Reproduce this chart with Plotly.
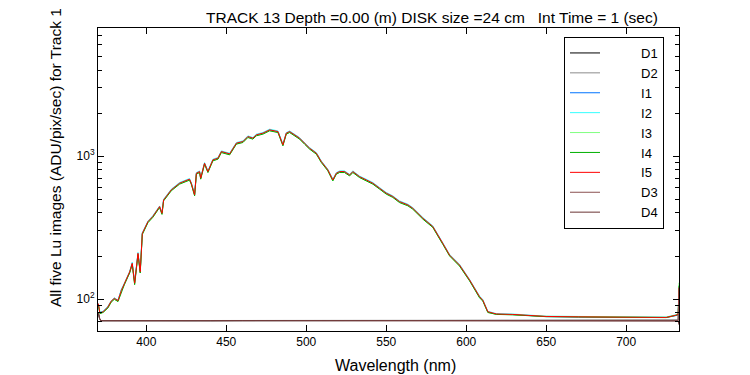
import plotly.graph_objects as go

# ---- data ----
wavelength = [370, 371, 373, 376, 378, 380, 382.3, 384.4, 386.4, 388.5, 389.6, 391.2, 392.7,
              394.8, 396.2, 397.5, 399, 401, 404, 408.3, 409.8, 410.8, 415.6, 420.8, 427,
              428.1, 430.2, 431.3, 433.3, 434, 436.4, 438.5, 441.6, 444.8, 446.9, 452.1,
              456.3, 460.4, 463.5, 466.6, 468.8, 472.9, 477.1, 482.3, 485.4, 487.5, 489.6,
              492.7, 495.8, 498.9, 502.1, 506.3, 509.4, 513.5, 516.6, 518.8, 520.8, 523.9,
              527.1, 529.1, 533.3, 537.5, 541.6, 545.8, 550, 554.1, 558.3, 563.5, 566.6,
              572.9, 579.1, 585.4, 589.6, 595.8, 602.1, 608.3, 610.4, 613.5, 618.8, 629,
              650, 670, 691.6, 710, 725, 731, 732.5, 733]

I5 = [93, 80, 81.5, 88, 96.6, 101, 97.5, 115, 129, 145, 155, 178, 129,
      209, 155, 288, 313, 348, 378, 444, 398, 494, 581, 647, 690,
      647, 536, 760, 780, 701, 893, 780, 942, 968, 1077, 1038,
      1233, 1266, 1372, 1337, 1410, 1449, 1528, 1486, 1200, 1449, 1486,
      1410, 1337, 1233, 1137, 1049, 917, 802, 682, 760, 780, 780,
      739, 780, 719, 682, 647, 597, 551, 522, 481, 456, 432,
      368, 322, 245, 203, 173, 136, 104, 98, 81.5, 78.6, 78,
      75.5, 75, 75, 74.5, 74.3, 77, 78, 120]
I1 = [92, 80, 82, 88, 96, 101, 98, 116, 128, 146, 154, 177, 131,
      208, 157, 287, 312, 347, 377, 442, 400, 492, 580, 645, 688,
      648, 540, 758, 779, 703, 890, 782, 940, 966, 1075, 1040,
      1230, 1265, 1370, 1338, 1408, 1450, 1525, 1488, 1205, 1447, 1484,
      1412, 1335, 1235, 1135, 1050, 915, 800, 685, 758, 779, 781,
      738, 779, 718, 683, 646, 596, 550, 521, 480, 455, 430,
      366, 321, 244, 202, 172, 135, 103, 97, 81, 78.3, 77.8,
      75.3, 74.8, 74.7, 74.4, 74.2, 76.5, 77.5, 118]
I2 = [93, 81, 82, 89, 97, 102, 98, 117, 130, 147, 156, 181, 131,
      212, 157, 291, 316, 351, 382, 448, 402, 499, 587, 654, 697,
      654, 542, 768, 788, 708, 902, 788, 952, 978, 1088, 1048,
      1245, 1279, 1386, 1350, 1424, 1464, 1543, 1502, 1212, 1463, 1501,
      1424, 1350, 1245, 1148, 1059, 926, 810, 689, 768, 788, 788,
      746, 788, 726, 689, 654, 603, 557, 527, 486, 461, 436,
      372, 325, 247, 205, 175, 137, 105, 99, 82, 79, 78.5,
      75.8, 75.5, 75.3, 75, 74.8, 77.5, 78.5, 122]
I3 = [92, 79, 81, 87, 95, 100, 96, 114, 127, 143, 153, 176, 127,
      206, 153, 284, 309, 344, 373, 439, 393, 488, 574, 639, 682,
      639, 530, 751, 770, 693, 882, 770, 930, 956, 1064, 1025,
      1218, 1251, 1356, 1321, 1393, 1432, 1510, 1468, 1186, 1432, 1468,
      1393, 1321, 1218, 1123, 1036, 906, 792, 674, 751, 770, 770,
      730, 770, 710, 674, 639, 590, 544, 516, 475, 451, 427,
      364, 318, 242, 201, 171, 134, 103, 97, 80.5, 78.2, 77.6,
      75.6, 75.4, 75.2, 74.7, 74.5, 77.2, 79, 130]
I4 = [91, 79, 80.5, 86.5, 95, 99.5, 96, 113, 127, 143, 152, 175, 126,
      205, 152, 283, 308, 342, 372, 437, 391, 486, 572, 637, 679,
      637, 527, 748, 768, 690, 879, 768, 927, 953, 1060, 1021,
      1214, 1246, 1350, 1316, 1388, 1426, 1504, 1463, 1181, 1426, 1463,
      1388, 1316, 1214, 1119, 1032, 903, 789, 671, 748, 768, 768,
      727, 768, 708, 671, 637, 588, 542, 514, 473, 449, 425,
      362, 317, 241, 200, 170, 134, 102, 96.5, 80.5, 78, 77.5,
      75.2, 74.8, 74.8, 74.3, 74.1, 76.8, 77.8, 124]

dark_wavelength = [370, 370.8, 371.6, 380, 400, 420, 440, 460, 480, 500, 520, 540, 560,
                   580, 600, 620, 640, 660, 680, 700, 720, 731, 732.5, 733]
D1 = [80, 73, 70.5, 70.4, 70.5, 70.6, 70.4, 70.5, 70.5, 70.3, 70.6, 70.5, 70.4,
      70.5, 70.5, 70.6, 70.4, 70.5, 70.6, 70.4, 70.5, 70.8, 71, 118]
D2 = [80, 73, 70.6, 70.6, 70.4, 70.5, 70.7, 70.4, 70.6, 70.5, 70.4, 70.6, 70.5,
      70.4, 70.6, 70.5, 70.6, 70.4, 70.5, 70.6, 70.4, 71, 71.2, 116]
D3 = [80, 73, 70.5, 70.5, 70.6, 70.4, 70.5, 70.6, 70.4, 70.6, 70.5, 70.4, 70.6,
      70.5, 70.4, 70.5, 70.5, 70.6, 70.4, 70.5, 70.6, 71, 70.8, 120]
D4 = [80, 73, 70.4, 70.5, 70.5, 70.5, 70.4, 70.5, 70.5, 70.5, 70.5, 70.5, 70.5,
      70.5, 70.5, 70.5, 70.5, 70.5, 70.5, 70.5, 70.5, 70.8, 70, 66]

x_ticks = [400, 450, 500, 550, 600, 650, 700]
y_ticks = [100, 1000]
y_tick_text = ["10<sup>2</sup>", "10<sup>3</sup>"]
y_minor = [60, 70, 80, 90, 200, 300, 400, 500, 600, 700, 800, 900,
           2000, 3000, 4000, 5000, 6000, 7000]

series = [
    ("D1", dark_wavelength, D1, "#000000"),
    ("D2", dark_wavelength, D2, "#8c8c8c"),
    ("I1", wavelength, I1, "#0073ff"),
    ("I2", wavelength, I2, "#33ffff"),
    ("I3", wavelength, I3, "#80ff80"),
    ("I4", wavelength, I4, "#00b000"),
    ("I5", wavelength, I5, "#ff0000"),
    ("D3", dark_wavelength, D3, "#8a5050"),
    ("D4", dark_wavelength, D4, "#6a3434"),
]

FONT = "Liberation Sans, Arial, sans-serif"
PAD = "\u00a0" * 10

# The page body has an 8px margin, so figure coordinates = window coordinates - 8.
OFF = 8
PL, PR, PT, PB = 98 - OFF, 679 - OFF, 28 - OFF, 331 - OFF   # plot box in figure px
W, H = 750, 375
PW, PH = PR - PL, PB - PT

def px_x(x):  # window px -> paper x
    return (x - OFF - PL) / PW

def px_y(y):  # window px -> paper y
    return (PB - (y - OFF)) / PH

fig = go.Figure()
for name, xs, ys, col in series:
    fig.add_trace(go.Scatter(x=xs, y=ys, name=PAD + name, mode="lines",
                             line=dict(color=col, width=1)))

fig.update_layout(
    width=W, height=H,
    margin=dict(l=PL, r=W - PR, t=PT, b=H - PB, autoexpand=False),
    paper_bgcolor="white", plot_bgcolor="white",
    font=dict(family=FONT, size=12, color="black"),
    title=dict(text="TRACK 13 Depth =0.00 (m) DISK size =24 cm   Int Time = 1 (sec)",
               xref="paper", x=px_x(432), xanchor="center",
               yref="container", y=1 - (17.5 - OFF) / H, yanchor="middle",
               font=dict(family=FONT, size=15.5, color="black")),
    legend=dict(x=px_x(564), xanchor="left", y=px_y(37), yanchor="top",
                bgcolor="white", bordercolor="black", borderwidth=1,
                font=dict(family=FONT, size=13, color="black"),
                tracegroupgap=0),
    showlegend=True,
    annotations=[
        dict(text="Wavelength (nm)", xref="paper", yref="paper",
             x=px_x(395), y=px_y(365), xanchor="center", yanchor="middle",
             showarrow=False, font=dict(family=FONT, size=16, color="black")),
        dict(text="All five Lu images (ADU/pix/sec) for Track 1", xref="paper", yref="paper",
             x=px_x(55), y=px_y(158), xanchor="center", yanchor="middle",
             textangle=-90, showarrow=False, font=dict(family=FONT, size=15.5, color="black")),
    ],
)

fig.update_xaxes(
    range=[369.8, 733], showgrid=False, zeroline=False, automargin=False,
    showline=True, linecolor="black", linewidth=1, mirror="ticks",
    ticks="inside", ticklen=6, tickcolor="black",
    tickvals=x_ticks,
    tickfont=dict(family=FONT, size=12),
)
fig.update_yaxes(
    type="log", range=[1.776, 3.897], showgrid=False, zeroline=False, automargin=False,
    showline=True, linecolor="black", linewidth=1, mirror="ticks",
    ticks="inside", ticklen=6, tickcolor="black",
    tickvals=y_ticks, ticktext=y_tick_text,
    minor=dict(ticks="inside", ticklen=4, tickcolor="black",
               tickvals=y_minor, showgrid=False),
    tickfont=dict(family=FONT, size=12),
)

fig.write_html("out.html")
